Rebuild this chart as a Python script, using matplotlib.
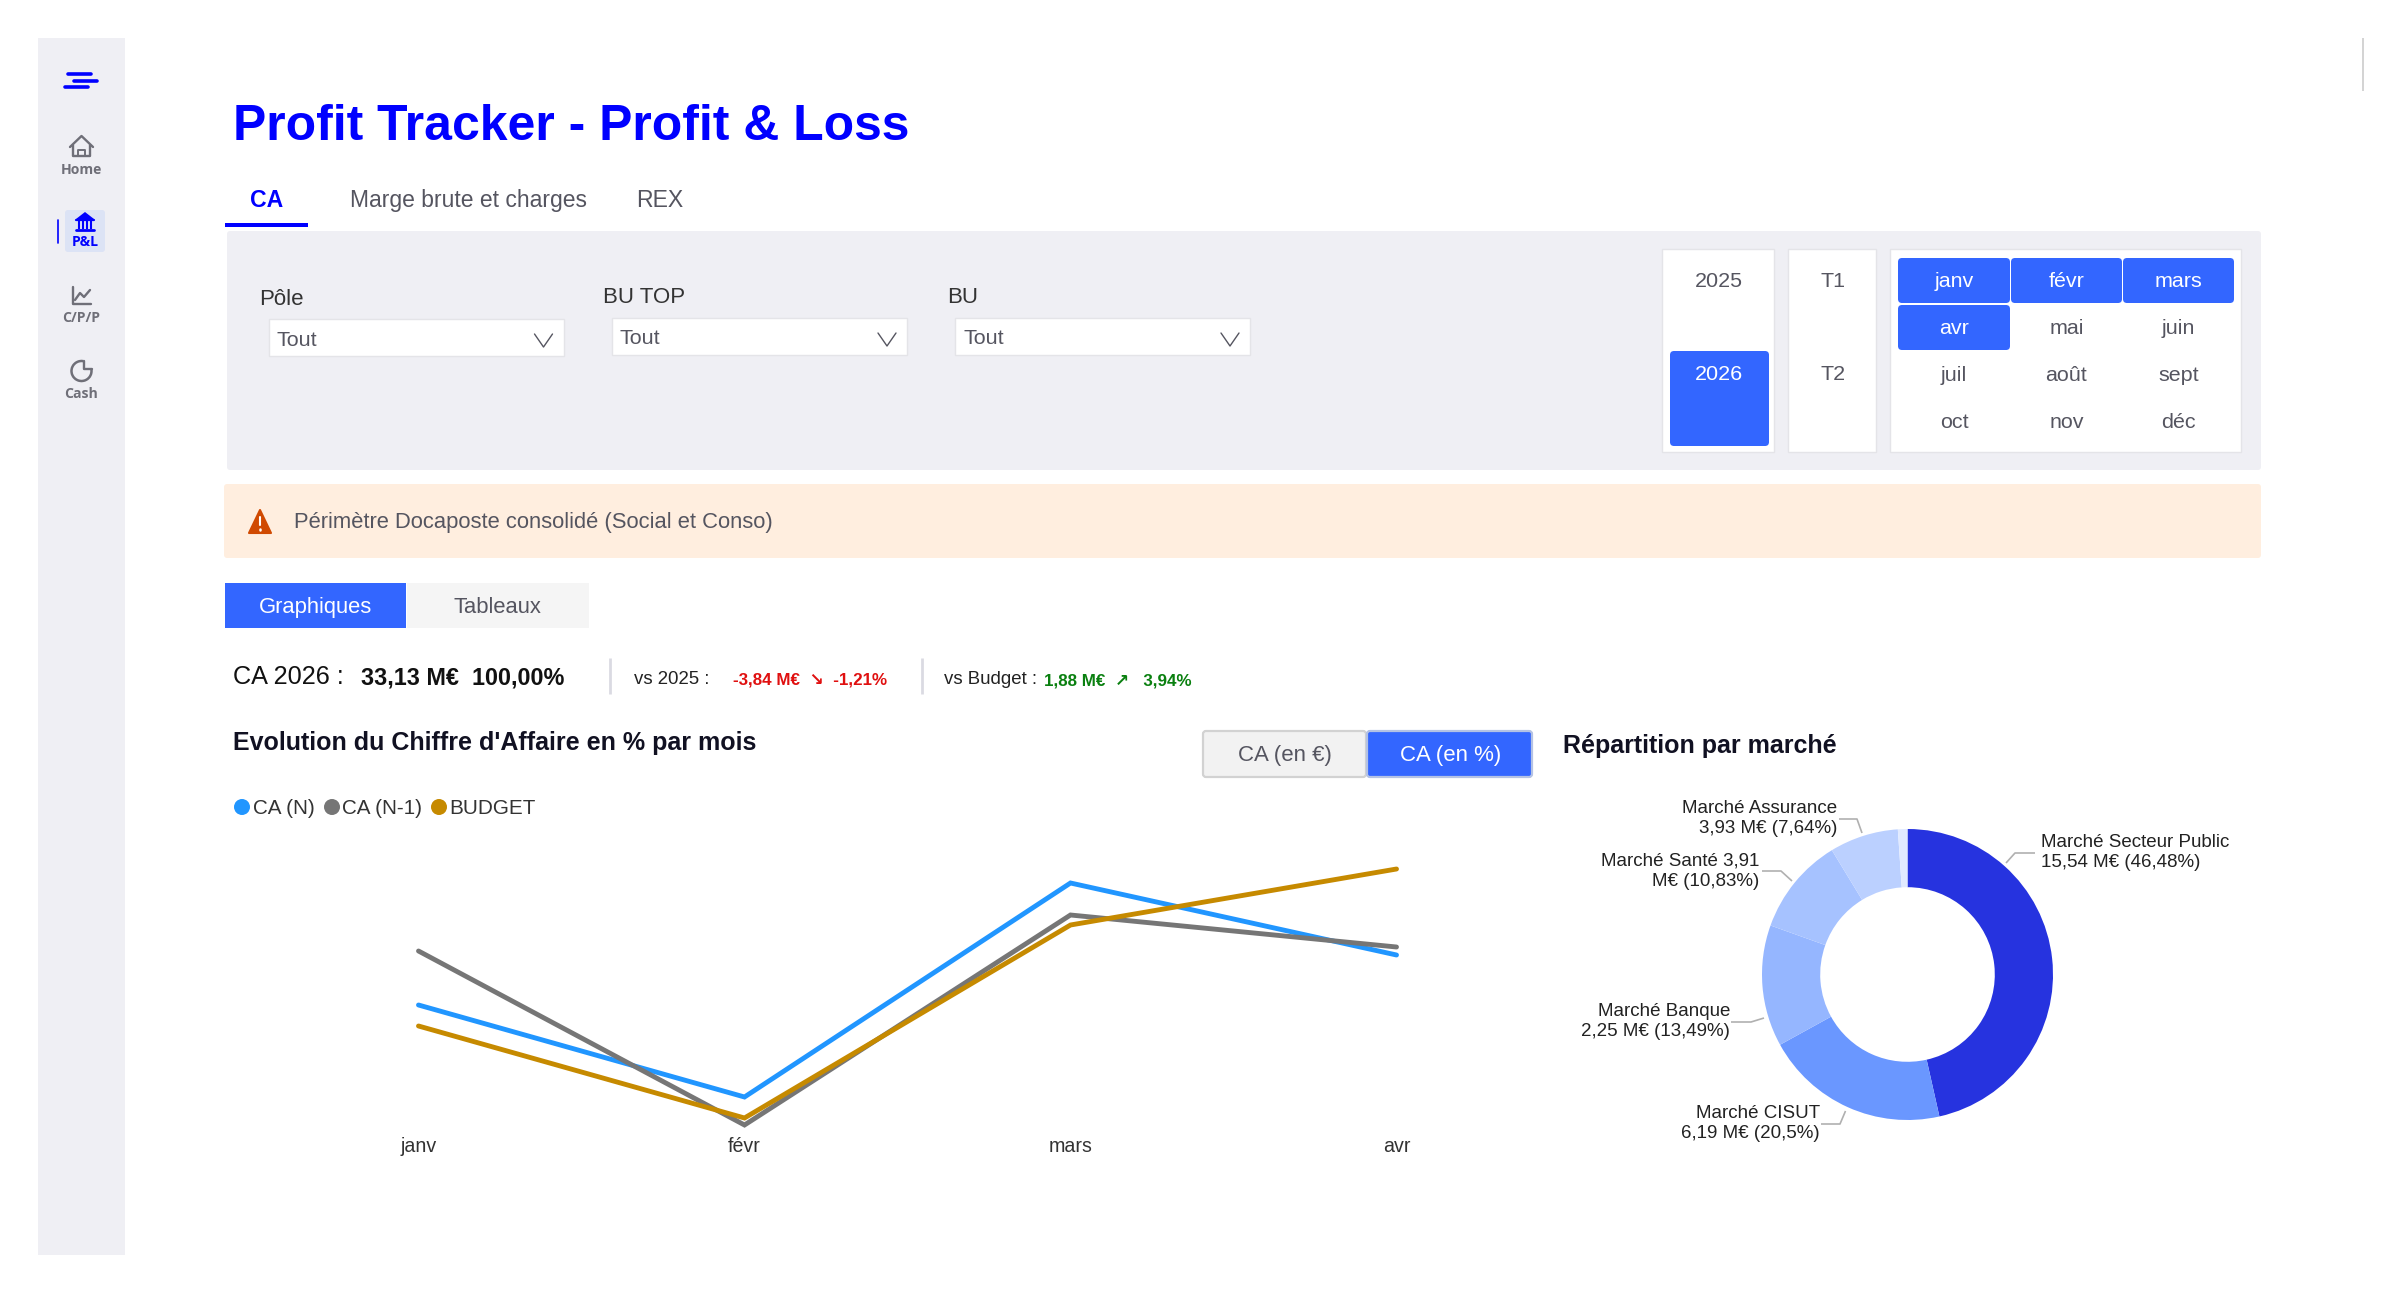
import matplotlib
matplotlib.use("Agg")
import matplotlib.pyplot as plt
from matplotlib.patches import FancyBboxPatch, Rectangle, Polygon, Circle, Arc

plt.rcParams['font.family'] = ['Liberation Sans', 'DejaVu Sans']

# ---- data ----
months = ['janv', 'févr', 'mars', 'avr']
ca_n = [13.4, 4.2, 25.6, 18.4]
ca_n1 = [18.8, 1.4, 22.4, 19.2]
budget = [11.3, 2.1, 21.4, 27.0]
series_names = ['CA (N)', 'CA (N-1)', 'BUDGET']
series_colors = ['#2196FF', '#767676', '#C68A00']

market_labels = ['Marché Secteur Public\n15,54 M€ (46,48%)', 'Marché CISUT\n6,19 M€ (20,5%)',
                 'Marché Banque\n2,25 M€ (13,49%)', 'Marché Santé 3,91\nM€ (10,83%)',
                 'Marché Assurance\n3,93 M€ (7,64%)']
market_share = [46.48, 20.5, 13.49, 10.83, 7.64, 1.06]
market_colors = ['#2633DF', '#6A97FF', '#95B6FF', '#A6C2FF', '#BBD0FF', '#E1EAFF']

year_labels = ['2025', '2026']
quarter_labels = ['T1', 'T2']
month_grid = [['janv', 'févr', 'mars'], ['avr', 'mai', 'juin'], ['juil', 'août', 'sept'], ['oct', 'nov', 'déc']]
selected_months = {'janv', 'févr', 'mars', 'avr'}

W, H = 2400, 1294
DPI = 100
BLUE = '#3366FF'
PURE = '#0000FF'
PANEL = '#EFEFF4'
GREY = '#555560'
PT = 72 / DPI

fig = plt.figure(figsize=(W / DPI, H / DPI), dpi=DPI, facecolor='white')
bg = fig.add_axes([0, 0, 1, 1])
bg.set_xlim(0, W)
bg.set_ylim(H, 0)
bg.axis('off')


def box(x0, y0, x1, y1, fc, ec='none', lw=0, r=0, z=1):
    if r:
        p = FancyBboxPatch((x0 + r, y0 + r), x1 - x0 - 2 * r, y1 - y0 - 2 * r,
                           boxstyle=f'round,pad={r},rounding_size={r}', fc=fc, ec=ec, lw=lw, zorder=z)
    else:
        p = Rectangle((x0, y0), x1 - x0, y1 - y0, fc=fc, ec=ec, lw=lw, zorder=z)
    bg.add_patch(p)


def txt(x, y, s, px, color='#333333', ha='left', weight='normal', family=None, z=5):
    kw = {}
    if family:
        kw['family'] = family
    bg.text(x, y, s, fontsize=px * PT, color=color, ha=ha, va='center_baseline', weight=weight, zorder=z, **kw)


def poly(pts, color, lw=1.5, z=5, cap='round'):
    xs, ys = zip(*pts)
    bg.plot(xs, ys, color=color, lw=lw, zorder=z, solid_capstyle=cap, solid_joinstyle='round')


# ---- sidebar ----
box(38, 38, 125, 1255, PANEL)
for (a, b, yy) in [(68, 91, 74), (74, 97, 81), (65, 88, 87)]:
    poly([(a, yy), (b, yy)], PURE, lw=2.6)
SB = '#6F6F78'
sb_font = ['Open Sans', 'DejaVu Sans']
# home
poly([(70, 147), (81.5, 136), (93, 147)], SB, 1.7)
poly([(73, 145), (73, 156), (90, 156), (90, 145)], SB, 1.7)
poly([(78, 156), (78, 150), (85, 150), (85, 156)], SB, 1.4)
txt(81, 168, 'Home', 14, SB, 'center', 'bold', sb_font)
# P&L
box(65, 210, 105, 252, '#DCE3F5', r=3)
poly([(58, 220), (58, 243)], PURE, 1.2)
bg.add_patch(Polygon([(76, 219), (85, 212), (94, 219)], fc=PURE, zorder=5))
for xx in [79, 83, 87, 91]:
    poly([(xx, 221), (xx, 229)], PURE, 1.5, cap='butt')
poly([(76, 220), (94, 220)], PURE, 1.6)
poly([(76, 230), (94, 230)], PURE, 2)
txt(85, 241, 'P&L', 14, PURE, 'center', 'bold', sb_font)
# chart
poly([(73, 287), (73, 304), (91, 304)], SB, 1.7)
poly([(75, 300), (80, 293), (84, 297), (90, 290)], SB, 1.7)
txt(81, 317, 'C/P/P', 14, SB, 'center', 'bold', sb_font)
# cash
bg.add_patch(Arc((81.5, 371), 20, 20, theta1=-10, theta2=280, ec=SB, lw=1.8, zorder=5))
poly([(84, 361), (84, 369), (92, 369)], SB, 1.7)
txt(81, 393, 'Cash', 14, SB, 'center', 'bold', sb_font)

# ---- header ----
txt(233, 122, 'Profit Tracker - Profit & Loss', 49.9, PURE, 'left', 'bold')
txt(266.5, 198, 'CA', 23, PURE, 'center', 'bold')
txt(350, 198, 'Marge brute et charges', 22.9, GREY)
txt(636, 198, 'REX', 23, GREY)
box(225, 223, 308, 226.5, PURE)

# ---- filter panel ----
box(227, 231, 2261, 470, PANEL, r=3)
for x, y, lab, x0, dy0 in [(259, 297, 'Pôle', 268.5, 319), (603, 295, 'BU TOP', 612, 318), (947, 295, 'BU', 955, 318)]:
    txt(x, y, lab, 22.3, '#333333')
    box(x0, dy0, x0 + 295, dy0 + 37, 'white', ec='#E4E4E8', lw=1)
    txt(x0 + 8, dy0 + 19, 'Tout', 21.5, GREY)
    poly([(x0 + 266, dy0 + 15), (x0 + 275, dy0 + 28), (x0 + 284, dy0 + 15)], GREY, 1.0)

box(1662, 249, 1774, 452, 'white', ec='#E4E4E8', lw=1)
box(1788, 249, 1876, 452, 'white', ec='#E4E4E8', lw=1)
box(1890, 249, 2241, 452, 'white', ec='#E4E4E8', lw=1)
box(1670, 351, 1769, 446, BLUE, r=4, z=2)
txt(1719, 279.5, year_labels[0], 21.5, GREY, 'center')
txt(1719, 372.5, year_labels[1], 21.5, 'white', 'center')
txt(1833, 279.5, quarter_labels[0], 21.5, GREY, 'center')
txt(1833, 372.5, quarter_labels[1], 21.5, GREY, 'center')
col_edges = [(1898, 2010), (2011, 2122), (2123, 2234)]
row_edges = [(258, 303), (305, 350), (352, 397), (399, 444)]
for r, row in enumerate(month_grid):
    for c, m in enumerate(row):
        x0, x1 = col_edges[c]
        y0, y1 = row_edges[r]
        on = m in selected_months
        if on:
            box(x0, y0, x1, y1, BLUE, r=4, z=2)
        txt((x0 + x1) / 2, (y0 + y1) / 2 - 1, m, 21.5, 'white' if on else GREY, 'center')

# ---- alert ----
box(224, 484, 2261, 558, '#FFEEDF', r=3)
bg.add_patch(Polygon([(260, 510), (271, 533), (249, 533)], fc='#D04A02', ec='#D04A02', lw=1.5, joinstyle='round', zorder=5))
poly([(260, 517), (260, 525)], 'white', 1.5)
poly([(260, 529), (260, 529.5)], 'white', 1.8)
txt(294, 520, 'Périmètre Docaposte consolidé (Social et Conso)', 22, GREY)

# ---- view tabs ----
box(225, 583, 406, 628, BLUE)
box(407, 583, 589, 628, '#F5F5F5')
txt(315, 605, 'Graphiques', 22, 'white', 'center')
txt(497, 605, 'Tableaux', 22, GREY, 'center')

# ---- KPI line ----
txt(233, 675, 'CA 2026 :', 25.3, '#111111')
txt(361, 675, '33,13 M€  100,00%', 23.4, '#111111', weight='bold')
for x in (609.5, 921.5):
    poly([(x, 658), (x, 694)], '#DADAE2', 2, cap='butt')
txt(633.5, 677.5, 'vs 2025 :', 18.6, '#222222')
txt(733, 678.5, '-3,84 M€  ↘  -1,21%', 17, '#E01010', weight='bold')
txt(944.5, 677.5, 'vs Budget :', 18.7, '#222222')
txt(1044, 680, '1,88 M€  ↗   3,94%', 17, '#0A8010', weight='bold')

# ---- section titles ----
txt(233, 740.5, "Evolution du Chiffre d'Affaire en % par mois", 25, '#111122', weight='bold')
txt(1563, 743, 'Répartition par marché', 25, '#111122', weight='bold')

# toggle
box(1203, 731, 1366, 777, '#F2F2F2', ec='#D2D2D2', lw=1.6, r=3)
box(1367, 731, 1532, 777, BLUE, ec='#B4C2E4', lw=1.6, r=3)
txt(1285, 753, 'CA (en €)', 22.3, GREY, 'center')
txt(1451, 753, 'CA (en %)', 22.3, 'white', 'center')

# legend
for cx, tx, name, col in zip((242, 332, 439), (253, 342, 449), series_names, series_colors):
    bg.add_patch(Circle((cx, 807), 8, fc=col, ec='none', zorder=5))
    txt(tx, 806.5, name, 20.7, '#333333')

# ---- line chart ----
ax = fig.add_axes([255.5 / W, 1 - 1139 / H, (1559.5 - 255.5) / W, 280 / H], frameon=False)
xs = range(len(months))
for vals, col in zip((ca_n, ca_n1, budget), series_colors):
    ax.plot(xs, vals, color=col, lw=3.5, solid_joinstyle='miter', solid_capstyle='round')
ax.set_xlim(-0.5, 3.5)
ax.set_ylim(0, 28)
ax.set_yticks([])
ax.set_xticks(list(xs), months, fontsize=19.7 * PT, color='#333333')
ax.tick_params(axis='x', length=0, pad=-1.5)

# ---- donut ----
cx, cy, R = 1907.5, 974.5, 145.5
dax = fig.add_axes([(cx - R) / W, 1 - (cy + R) / H, 2 * R / W, 2 * R / H], frameon=False)
dax.pie(market_share, colors=market_colors, startangle=90, counterclock=False,
        radius=1, wedgeprops=dict(width=0.4, linewidth=0))
dax.set_xlim(-1, 1)
dax.set_ylim(-1, 1)

label_pos = [(2041, 852.5, 'left'), (1820, 1123.5, 'right'), (1730, 1021.5, 'right'),
             (1759, 871, 'right'), (1837.5, 818.5, 'right')]
leaders = [[(2006, 863), (2015, 853), (2035, 853)], [(1845.5, 1111), (1840, 1124), (1821, 1124)],
           [(1764, 1018), (1751, 1022), (1731, 1022)], [(1792, 881), (1781, 871), (1762, 871)],
           [(1862, 833), (1857, 819), (1839, 819)]]
for lab, (x, y, ha), pts in zip(market_labels, label_pos, leaders):
    bg.text(x, y, lab, fontsize=18.8 * PT, color='#222222', ha=ha, va='center', linespacing=1.3, zorder=5)
    poly(pts, '#B0B0B0', 1.2, cap='butt')

poly([(2363, 38), (2363, 91)], '#C8C8C8', 1.1, cap='butt')

fig.savefig('out.png', dpi=DPI)
